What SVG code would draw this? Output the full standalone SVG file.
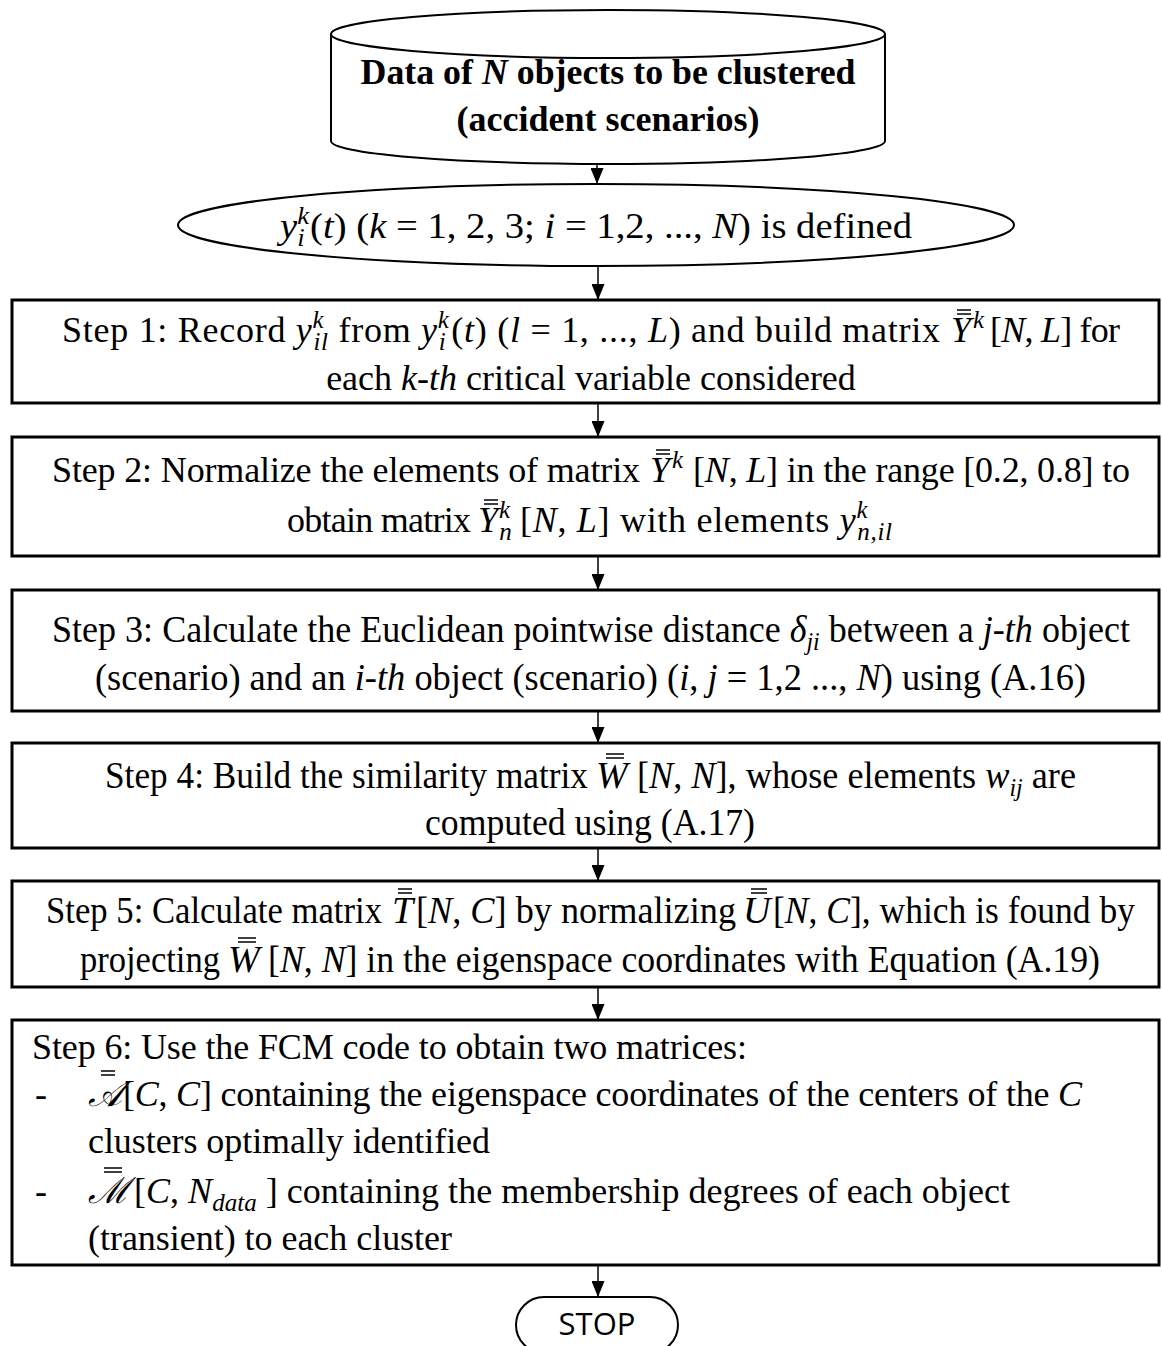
<svg xmlns="http://www.w3.org/2000/svg" width="1162" height="1346" viewBox="0 0 1162 1346">
<defs>
<style>
.t{font-family:"Liberation Serif","Times New Roman",serif;font-size:36px;fill:#000}
.c{font-size:38px}
.i{font-style:italic}
.s{font-size:25px}
.bd{font-weight:bold}
.bar{stroke:#000;stroke-width:1.5;fill:none}
.box{fill:#fff;stroke:#000;stroke-width:3}
.shape{fill:#fff;stroke:#000;stroke-width:2}
.conn{stroke:#000;stroke-width:1.5;fill:none;marker-end:url(#ah)}
.stop{font-family:"Open Sans","Liberation Sans",sans-serif;font-size:31px;fill:#000}
</style>
<marker id="ah" markerUnits="userSpaceOnUse" markerWidth="16" markerHeight="13" viewBox="0 0 16 13" refX="16" refY="6.5" orient="auto">
<path d="M0,0 L16,6.5 L0,13 z" fill="#000"/>
</marker>
</defs>
<rect width="1162" height="1346" fill="#fff"/>

<g id="connectors">
<line class="conn" x1="597" y1="164" x2="597" y2="184"/>
<line class="conn" x1="598" y1="266" x2="598" y2="300"/>
<line class="conn" x1="598" y1="403" x2="598" y2="437"/>
<line class="conn" x1="598" y1="556" x2="598" y2="590"/>
<line class="conn" x1="598" y1="711" x2="598" y2="743"/>
<line class="conn" x1="598" y1="848" x2="598" y2="881"/>
<line class="conn" x1="598" y1="987" x2="598" y2="1020"/>
<line class="conn" x1="598" y1="1265" x2="598" y2="1297"/>
</g>

<g id="data">
<path class="shape" d="M331,34 A277,24 0 0 1 885,34 V141 A277,23 0 0 1 331,141 Z"/>
<path class="shape" d="M331,34 A277,24 0 0 0 885,34"/>
<text class="t bd" x="608" y="84" text-anchor="middle" textLength="495" lengthAdjust="spacingAndGlyphs">Data of <tspan class="i">N</tspan> objects to be clustered</text>
<text class="t bd" x="608" y="131" text-anchor="middle">(accident scenarios)</text>
</g>

<g id="define">
<ellipse class="shape" cx="596" cy="225" rx="418" ry="41"/>
<text class="t" x="280" y="238" textLength="632" lengthAdjust="spacingAndGlyphs"><tspan class="i">y</tspan><tspan class="i s" dy="-14">k</tspan><tspan class="i s" dx="-11" dy="22">i</tspan><tspan dx="5" dy="-8">(</tspan><tspan class="i">t</tspan>) (<tspan class="i">k</tspan> = 1, 2, 3; <tspan class="i">i</tspan> = 1,2, ..., <tspan class="i">N</tspan>) is defined</text>
</g>

<g id="step1">
<rect class="box" x="12" y="300" width="1147" height="103"/>
<text class="t" x="62" y="342" textLength="878" lengthAdjust="spacing">Step 1: Record <tspan class="i">y</tspan><tspan class="i s" dy="-14">k</tspan><tspan class="i s" dx="-11" dy="22">il</tspan><tspan dy="-8"> from </tspan><tspan class="i">y</tspan><tspan class="i s" dy="-14">k</tspan><tspan class="i s" dx="-11" dy="22">i</tspan><tspan dx="5" dy="-8">(</tspan><tspan class="i">t</tspan>) (<tspan class="i">l</tspan> = 1, ..., <tspan class="i">L</tspan>) and build matrix</text>
<text class="t" x="951" y="342"><tspan class="i">Y</tspan><tspan class="i s" dx="2" dy="-14">k</tspan></text>
<path class="bar" d="M957,314 h14 M957,310 h14"/>
<text class="t" x="990" y="342" textLength="130" lengthAdjust="spacing">[<tspan class="i">N</tspan>, <tspan class="i">L</tspan>] for</text>
<text class="t" x="591" y="390" text-anchor="middle">each <tspan class="i">k-th</tspan> critical variable considered</text>
</g>

<g id="step2">
<rect class="box" x="12" y="437" width="1147" height="119"/>
<text class="t" x="52" y="482" textLength="588" lengthAdjust="spacing">Step 2: Normalize the elements of matrix</text>
<text class="t" x="650" y="482"><tspan class="i">Y</tspan><tspan class="i s" dx="2" dy="-14">k</tspan></text>
<path class="bar" d="M656,454 h14 M656,450 h14"/>
<text class="t" x="693" y="482" textLength="437" lengthAdjust="spacing">[<tspan class="i">N</tspan>, <tspan class="i">L</tspan>] in the range [0.2, 0.8] to</text>
<text class="t" x="287" y="532" textLength="184" lengthAdjust="spacing">obtain matrix</text>
<text class="t" x="478" y="532"><tspan class="i">Y</tspan><tspan class="i s" dx="1" dy="-14">k</tspan><tspan class="i s" dx="-11" dy="22">n</tspan></text>
<path class="bar" d="M484,504 h14 M484,500 h14"/>
<text class="t" x="520" y="532" textLength="372" lengthAdjust="spacing">[<tspan class="i">N</tspan>, <tspan class="i">L</tspan>] with elements <tspan class="i">y</tspan><tspan class="i s" dy="-14">k</tspan><tspan class="i s" dx="-11" dy="22">n,il</tspan></text>
</g>

<g id="step3">
<rect class="box" x="12" y="590" width="1147" height="121"/>
<text class="t c" x="52" y="642" textLength="1078" lengthAdjust="spacingAndGlyphs">Step 3: Calculate the Euclidean pointwise distance <tspan class="i">δ</tspan><tspan class="i s" dy="8">ji</tspan><tspan dy="-8"> between a </tspan><tspan class="i">j-th</tspan> object</text>
<text class="t c" x="95" y="690" textLength="991" lengthAdjust="spacingAndGlyphs">(scenario) and an <tspan class="i">i-th</tspan> object (scenario) (<tspan class="i">i</tspan>, <tspan class="i">j</tspan> = 1,2 ..., <tspan class="i">N</tspan>) using (A.16)</text>
</g>

<g id="step4">
<rect class="box" x="12" y="743" width="1147" height="105"/>
<text class="t c" x="105" y="788" textLength="483" lengthAdjust="spacingAndGlyphs">Step 4: Build the similarity matrix</text>
<text class="t c i" x="596" y="788">W</text>
<path class="bar" d="M606,758 h18 M606,754 h18"/>
<text class="t c" x="637" y="788" textLength="439" lengthAdjust="spacingAndGlyphs">[<tspan class="i">N</tspan>, <tspan class="i">N</tspan>], whose elements <tspan class="i">w</tspan><tspan class="i s" dy="8">ij</tspan><tspan dy="-8"> are</tspan></text>
<text class="t c" x="590" y="835" text-anchor="middle" textLength="330" lengthAdjust="spacingAndGlyphs">computed using (A.17)</text>
</g>

<g id="step5">
<rect class="box" x="12" y="881" width="1147" height="106"/>
<text class="t c" x="46" y="923" textLength="336" lengthAdjust="spacingAndGlyphs">Step 5: Calculate matrix</text>
<text class="t c i" x="392" y="923">T</text>
<path class="bar" d="M398,893 h14 M398,889 h14"/>
<text class="t c" x="416" y="923" textLength="320" lengthAdjust="spacingAndGlyphs">[<tspan class="i">N</tspan>, <tspan class="i">C</tspan>] by normalizing</text>
<text class="t c i" x="743" y="923">U</text>
<path class="bar" d="M751,893 h16 M751,889 h16"/>
<text class="t c" x="773" y="923" textLength="362" lengthAdjust="spacingAndGlyphs">[<tspan class="i">N</tspan>, <tspan class="i">C</tspan>], which is found by</text>
<text class="t c" x="80" y="972" textLength="140" lengthAdjust="spacingAndGlyphs">projecting</text>
<text class="t c i" x="228" y="972">W</text>
<path class="bar" d="M238,942 h18 M238,938 h18"/>
<text class="t c" x="268" y="972" textLength="832" lengthAdjust="spacingAndGlyphs">[<tspan class="i">N</tspan>, <tspan class="i">N</tspan>] in the eigenspace coordinates with Equation (A.19)</text>
</g>

<g id="step6">
<rect class="box" x="12" y="1020" width="1147" height="245"/>
<text class="t" x="32" y="1059" textLength="715" lengthAdjust="spacing">Step 6: Use the FCM code to obtain two matrices:</text>
<text class="t" x="35" y="1106">-</text>
<text class="t i" x="88" y="1106">𝒜</text>
<path class="bar" d="M101,1075 h14 M101,1071 h14"/>
<text class="t" x="123" y="1106" textLength="959" lengthAdjust="spacing">[<tspan class="i">C</tspan>, <tspan class="i">C</tspan>] containing the eigenspace coordinates of the centers of the <tspan class="i">C</tspan></text>
<text class="t" x="88" y="1153" textLength="402" lengthAdjust="spacing">clusters optimally identified</text>
<text class="t" x="35" y="1203">-</text>
<text class="t i" x="88" y="1203">ℳ</text>
<path class="bar" d="M104,1172 h18 M104,1168 h18"/>
<text class="t" x="134" y="1203" textLength="876" lengthAdjust="spacing">[<tspan class="i">C</tspan>, <tspan class="i">N</tspan><tspan class="i s" dy="8">data</tspan><tspan dy="-8"> ] containing the membership degrees of each object</tspan></text>
<text class="t" x="88" y="1250" textLength="364" lengthAdjust="spacing">(transient) to each cluster</text>
</g>

<g id="stop">
<rect class="shape" x="516" y="1297" width="162" height="56" rx="28"/>
<text class="stop" x="597" y="1335" text-anchor="middle">STOP</text>
</g>
</svg>
